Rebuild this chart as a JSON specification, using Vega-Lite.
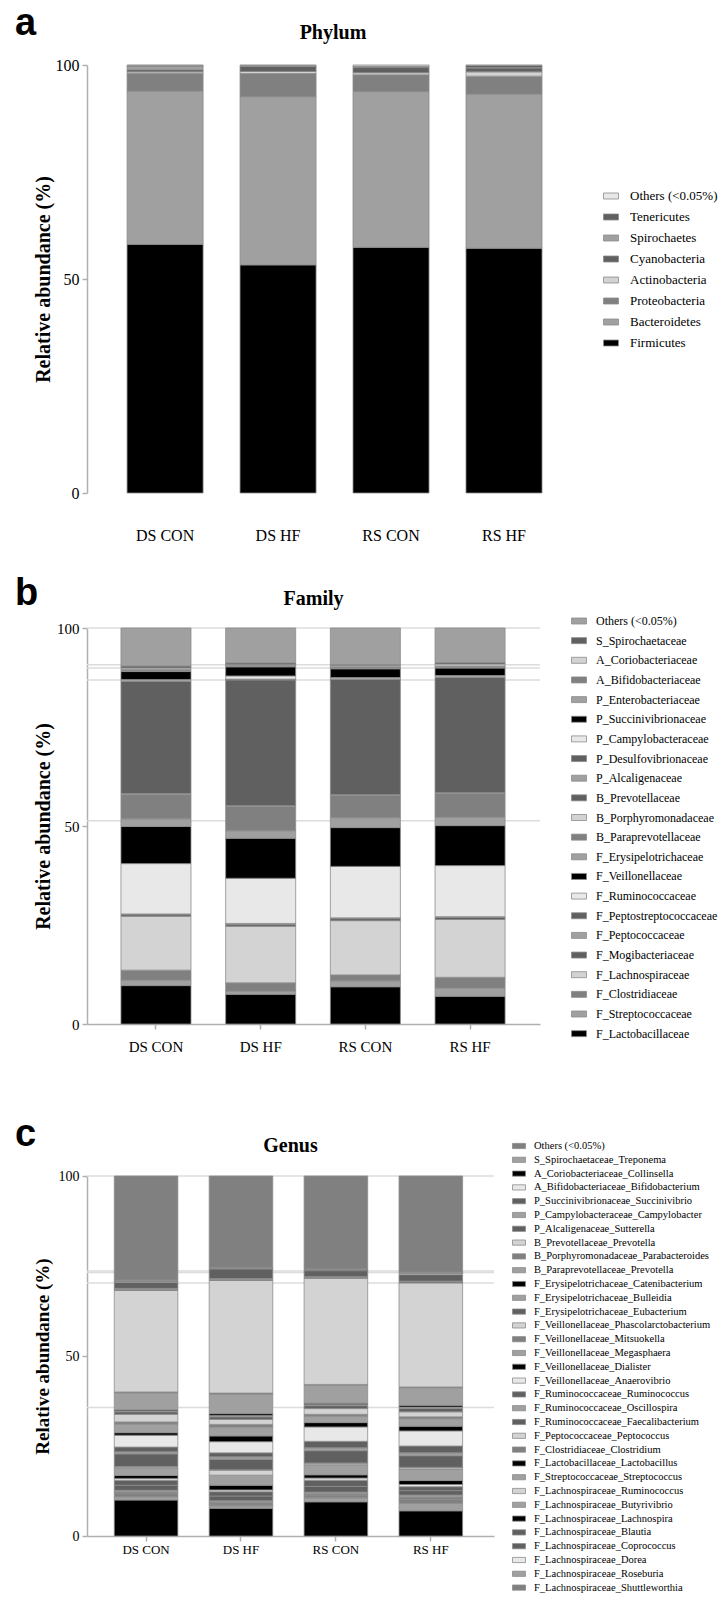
{
"$schema": "https://vega.github.io/schema/vega-lite/v6.json",
"background": "white",
"padding": {"left": 15, "top": 4, "right": 0, "bottom": 0},
"spacing": 32,
"resolve": {"scale": {"color": "independent", "x": "independent", "y": "independent"}, "legend": {"color": "independent"}},
"config": {
  "view": {"stroke": null},
  "font": "Liberation Serif",
  "axis": {"labelFont": "Liberation Serif", "titleFont": "Liberation Serif", "labelColor": "#000", "titleColor": "#000", "domainColor": "#b0b0b0", "domainWidth": 1.5, "tickColor": "#b0b0b0", "tickWidth": 1.5, "grid": false, "titleFontWeight": "bold"},
  "legend": {"labelFont": "Liberation Serif", "labelColor": "#000", "symbolType": "M-1,-0.4H1V0.4H-1Z", "symbolStrokeColor": "#8c8c8c", "symbolStrokeWidth": 0.8, "labelLimit": 400, "symbolLimit": 50},
  "title": {"font": "Liberation Serif", "fontWeight": "bold", "color": "#000"}
},
"datasets": {
  "phylum": [
    {"group": "DS CON", "taxon": "Firmicutes", "value": 58.1}, {"group": "DS HF", "taxon": "Firmicutes", "value": 53.3}, {"group": "RS CON", "taxon": "Firmicutes", "value": 57.4}, {"group": "RS HF", "taxon": "Firmicutes", "value": 57.2},
    {"group": "DS CON", "taxon": "Bacteroidetes", "value": 35.8}, {"group": "DS HF", "taxon": "Bacteroidetes", "value": 39.3}, {"group": "RS CON", "taxon": "Bacteroidetes", "value": 36.4}, {"group": "RS HF", "taxon": "Bacteroidetes", "value": 36.0},
    {"group": "DS CON", "taxon": "Proteobacteria", "value": 4.1}, {"group": "DS HF", "taxon": "Proteobacteria", "value": 5.4}, {"group": "RS CON", "taxon": "Proteobacteria", "value": 3.9}, {"group": "RS HF", "taxon": "Proteobacteria", "value": 4.2},
    {"group": "DS CON", "taxon": "Actinobacteria", "value": 0.4}, {"group": "DS HF", "taxon": "Actinobacteria", "value": 0.5}, {"group": "RS CON", "taxon": "Actinobacteria", "value": 0.5}, {"group": "RS HF", "taxon": "Actinobacteria", "value": 1.0},
    {"group": "DS CON", "taxon": "Cyanobacteria", "value": 0.5}, {"group": "DS HF", "taxon": "Cyanobacteria", "value": 1.2}, {"group": "RS CON", "taxon": "Cyanobacteria", "value": 1.2}, {"group": "RS HF", "taxon": "Cyanobacteria", "value": 0.9},
    {"group": "DS CON", "taxon": "Spirochaetes", "value": 0.8}, {"group": "DS HF", "taxon": "Spirochaetes", "value": 0.1}, {"group": "RS CON", "taxon": "Spirochaetes", "value": 0.1}, {"group": "RS HF", "taxon": "Spirochaetes", "value": 0.1},
    {"group": "DS CON", "taxon": "Tenericutes", "value": 0.2}, {"group": "DS HF", "taxon": "Tenericutes", "value": 0.1}, {"group": "RS CON", "taxon": "Tenericutes", "value": 0.2}, {"group": "RS HF", "taxon": "Tenericutes", "value": 0.5},
    {"group": "DS CON", "taxon": "Others (<0.05%)", "value": 0.1}, {"group": "DS HF", "taxon": "Others (<0.05%)", "value": 0.1}, {"group": "RS CON", "taxon": "Others (<0.05%)", "value": 0.3}, {"group": "RS HF", "taxon": "Others (<0.05%)", "value": 0.1}
  ],
  "family_lines": [{"value": 100}, {"value": 90.7}, {"value": 89.9}, {"value": 86.9}, {"value": 51.3}],
  "family": [
    {"group": "DS CON", "taxon": "F_Lactobacillaceae", "value": 9.7}, {"group": "DS HF", "taxon": "F_Lactobacillaceae", "value": 7.5}, {"group": "RS CON", "taxon": "F_Lactobacillaceae", "value": 9.4}, {"group": "RS HF", "taxon": "F_Lactobacillaceae", "value": 7.0},
    {"group": "DS CON", "taxon": "F_Streptococcaceae", "value": 1.4}, {"group": "DS HF", "taxon": "F_Streptococcaceae", "value": 0.8}, {"group": "RS CON", "taxon": "F_Streptococcaceae", "value": 1.5}, {"group": "RS HF", "taxon": "F_Streptococcaceae", "value": 2.1},
    {"group": "DS CON", "taxon": "F_Clostridiaceae", "value": 2.5}, {"group": "DS HF", "taxon": "F_Clostridiaceae", "value": 2.1}, {"group": "RS CON", "taxon": "F_Clostridiaceae", "value": 1.5}, {"group": "RS HF", "taxon": "F_Clostridiaceae", "value": 2.7},
    {"group": "DS CON", "taxon": "F_Lachnospiraceae", "value": 13.6}, {"group": "DS HF", "taxon": "F_Lachnospiraceae", "value": 14.3}, {"group": "RS CON", "taxon": "F_Lachnospiraceae", "value": 13.7}, {"group": "RS HF", "taxon": "F_Lachnospiraceae", "value": 14.6},
    {"group": "DS CON", "taxon": "F_Mogibacteriaceae", "value": 0.4}, {"group": "DS HF", "taxon": "F_Mogibacteriaceae", "value": 0.5}, {"group": "RS CON", "taxon": "F_Mogibacteriaceae", "value": 0.5}, {"group": "RS HF", "taxon": "F_Mogibacteriaceae", "value": 0.5},
    {"group": "DS CON", "taxon": "F_Peptococcaceae", "value": 0.1}, {"group": "DS HF", "taxon": "F_Peptococcaceae", "value": 0.1}, {"group": "RS CON", "taxon": "F_Peptococcaceae", "value": 0.1}, {"group": "RS HF", "taxon": "F_Peptococcaceae", "value": 0.1},
    {"group": "DS CON", "taxon": "F_Peptostreptococcaceae", "value": 0.1}, {"group": "DS HF", "taxon": "F_Peptostreptococcaceae", "value": 0.1}, {"group": "RS CON", "taxon": "F_Peptostreptococcaceae", "value": 0.1}, {"group": "RS HF", "taxon": "F_Peptostreptococcaceae", "value": 0.1},
    {"group": "DS CON", "taxon": "F_Ruminococcaceae", "value": 12.7}, {"group": "DS HF", "taxon": "F_Ruminococcaceae", "value": 11.4}, {"group": "RS CON", "taxon": "F_Ruminococcaceae", "value": 13.0}, {"group": "RS HF", "taxon": "F_Ruminococcaceae", "value": 12.9},
    {"group": "DS CON", "taxon": "F_Veillonellaceae", "value": 9.4}, {"group": "DS HF", "taxon": "F_Veillonellaceae", "value": 10.1}, {"group": "RS CON", "taxon": "F_Veillonellaceae", "value": 9.8}, {"group": "RS HF", "taxon": "F_Veillonellaceae", "value": 10.1},
    {"group": "DS CON", "taxon": "F_Erysipelotrichaceae", "value": 1.9}, {"group": "DS HF", "taxon": "F_Erysipelotrichaceae", "value": 1.9}, {"group": "RS CON", "taxon": "F_Erysipelotrichaceae", "value": 2.5}, {"group": "RS HF", "taxon": "F_Erysipelotrichaceae", "value": 2.1},
    {"group": "DS CON", "taxon": "B_Paraprevotellaceae", "value": 6.2}, {"group": "DS HF", "taxon": "B_Paraprevotellaceae", "value": 6.1}, {"group": "RS CON", "taxon": "B_Paraprevotellaceae", "value": 5.6}, {"group": "RS HF", "taxon": "B_Paraprevotellaceae", "value": 6.0},
    {"group": "DS CON", "taxon": "B_Porphyromonadaceae", "value": 0.2}, {"group": "DS HF", "taxon": "B_Porphyromonadaceae", "value": 0.2}, {"group": "RS CON", "taxon": "B_Porphyromonadaceae", "value": 0.2}, {"group": "RS HF", "taxon": "B_Porphyromonadaceae", "value": 0.2},
    {"group": "DS CON", "taxon": "B_Prevotellaceae", "value": 28.3}, {"group": "DS HF", "taxon": "B_Prevotellaceae", "value": 31.8}, {"group": "RS CON", "taxon": "B_Prevotellaceae", "value": 29.1}, {"group": "RS HF", "taxon": "B_Prevotellaceae", "value": 29.1},
    {"group": "DS CON", "taxon": "P_Alcaligenaceae", "value": 0.1}, {"group": "DS HF", "taxon": "P_Alcaligenaceae", "value": 0.1}, {"group": "RS CON", "taxon": "P_Alcaligenaceae", "value": 0.1}, {"group": "RS HF", "taxon": "P_Alcaligenaceae", "value": 0.1},
    {"group": "DS CON", "taxon": "P_Desulfovibrionaceae", "value": 0.1}, {"group": "DS HF", "taxon": "P_Desulfovibrionaceae", "value": 0.1}, {"group": "RS CON", "taxon": "P_Desulfovibrionaceae", "value": 0.1}, {"group": "RS HF", "taxon": "P_Desulfovibrionaceae", "value": 0.1},
    {"group": "DS CON", "taxon": "P_Campylobacteraceae", "value": 0.3}, {"group": "DS HF", "taxon": "P_Campylobacteraceae", "value": 0.8}, {"group": "RS CON", "taxon": "P_Campylobacteraceae", "value": 0.3}, {"group": "RS HF", "taxon": "P_Campylobacteraceae", "value": 0.3},
    {"group": "DS CON", "taxon": "P_Succinivibrionaceae", "value": 2.0}, {"group": "DS HF", "taxon": "P_Succinivibrionaceae", "value": 2.3}, {"group": "RS CON", "taxon": "P_Succinivibrionaceae", "value": 2.2}, {"group": "RS HF", "taxon": "P_Succinivibrionaceae", "value": 1.9},
    {"group": "DS CON", "taxon": "P_Enterobacteriaceae", "value": 0.2}, {"group": "DS HF", "taxon": "P_Enterobacteriaceae", "value": 0.2}, {"group": "RS CON", "taxon": "P_Enterobacteriaceae", "value": 0.2}, {"group": "RS HF", "taxon": "P_Enterobacteriaceae", "value": 0.3},
    {"group": "DS CON", "taxon": "A_Bifidobacteriaceae", "value": 0.3}, {"group": "DS HF", "taxon": "A_Bifidobacteriaceae", "value": 0.2}, {"group": "RS CON", "taxon": "A_Bifidobacteriaceae", "value": 0.3}, {"group": "RS HF", "taxon": "A_Bifidobacteriaceae", "value": 0.2},
    {"group": "DS CON", "taxon": "A_Coriobacteriaceae", "value": 0.4}, {"group": "DS HF", "taxon": "A_Coriobacteriaceae", "value": 0.2}, {"group": "RS CON", "taxon": "A_Coriobacteriaceae", "value": 0.3}, {"group": "RS HF", "taxon": "A_Coriobacteriaceae", "value": 0.5},
    {"group": "DS CON", "taxon": "S_Spirochaetaceae", "value": 0.5}, {"group": "DS HF", "taxon": "S_Spirochaetaceae", "value": 0.4}, {"group": "RS CON", "taxon": "S_Spirochaetaceae", "value": 0.3}, {"group": "RS HF", "taxon": "S_Spirochaetaceae", "value": 0.4},
    {"group": "DS CON", "taxon": "Others (<0.05%)", "value": 9.6}, {"group": "DS HF", "taxon": "Others (<0.05%)", "value": 8.8}, {"group": "RS CON", "taxon": "Others (<0.05%)", "value": 9.2}, {"group": "RS HF", "taxon": "Others (<0.05%)", "value": 8.7}
  ],
  "genus_lines": [{"value": 100}, {"value": 73.6}, {"value": 73.2}, {"value": 70.3}, {"value": 35.7}],
  "genus": [
    {"group": "DS CON", "taxon": "F_Lactobacillaceae_Lactobacillus", "value": 10.0}, {"group": "DS HF", "taxon": "F_Lactobacillaceae_Lactobacillus", "value": 7.7}, {"group": "RS CON", "taxon": "F_Lactobacillaceae_Lactobacillus", "value": 9.5}, {"group": "RS HF", "taxon": "F_Lactobacillaceae_Lactobacillus", "value": 7.0},
    {"group": "DS CON", "taxon": "F_Streptococcaceae_Streptococcus", "value": 0.9}, {"group": "DS HF", "taxon": "F_Streptococcaceae_Streptococcus", "value": 0.7}, {"group": "RS CON", "taxon": "F_Streptococcaceae_Streptococcus", "value": 1.1}, {"group": "RS HF", "taxon": "F_Streptococcaceae_Streptococcus", "value": 2.1},
    {"group": "DS CON", "taxon": "F_Clostridiaceae_Clostridium", "value": 0.9}, {"group": "DS HF", "taxon": "F_Clostridiaceae_Clostridium", "value": 0.5}, {"group": "RS CON", "taxon": "F_Clostridiaceae_Clostridium", "value": 0.6}, {"group": "RS HF", "taxon": "F_Clostridiaceae_Clostridium", "value": 1.1},
    {"group": "DS CON", "taxon": "F_Lachnospiraceae_Shuttleworthia", "value": 0.4}, {"group": "DS HF", "taxon": "F_Lachnospiraceae_Shuttleworthia", "value": 0.5}, {"group": "RS CON", "taxon": "F_Lachnospiraceae_Shuttleworthia", "value": 0.5}, {"group": "RS HF", "taxon": "F_Lachnospiraceae_Shuttleworthia", "value": 0.6},
    {"group": "DS CON", "taxon": "F_Lachnospiraceae_Roseburia", "value": 0.5}, {"group": "DS HF", "taxon": "F_Lachnospiraceae_Roseburia", "value": 0.4}, {"group": "RS CON", "taxon": "F_Lachnospiraceae_Roseburia", "value": 0.5}, {"group": "RS HF", "taxon": "F_Lachnospiraceae_Roseburia", "value": 0.6},
    {"group": "DS CON", "taxon": "F_Lachnospiraceae_Coprococcus", "value": 1.4}, {"group": "DS HF", "taxon": "F_Lachnospiraceae_Coprococcus", "value": 1.3}, {"group": "RS CON", "taxon": "F_Lachnospiraceae_Coprococcus", "value": 1.6}, {"group": "RS HF", "taxon": "F_Lachnospiraceae_Coprococcus", "value": 1.2},
    {"group": "DS CON", "taxon": "F_Lachnospiraceae_Blautia", "value": 1.4}, {"group": "DS HF", "taxon": "F_Lachnospiraceae_Blautia", "value": 1.2}, {"group": "RS CON", "taxon": "F_Lachnospiraceae_Blautia", "value": 1.7}, {"group": "RS HF", "taxon": "F_Lachnospiraceae_Blautia", "value": 1.1},
    {"group": "DS CON", "taxon": "F_Lachnospiraceae_Dorea", "value": 0.5}, {"group": "DS HF", "taxon": "F_Lachnospiraceae_Dorea", "value": 0.5}, {"group": "RS CON", "taxon": "F_Lachnospiraceae_Dorea", "value": 0.6}, {"group": "RS HF", "taxon": "F_Lachnospiraceae_Dorea", "value": 0.6},
    {"group": "DS CON", "taxon": "F_Lachnospiraceae_Lachnospira", "value": 0.8}, {"group": "DS HF", "taxon": "F_Lachnospiraceae_Lachnospira", "value": 1.3}, {"group": "RS CON", "taxon": "F_Lachnospiraceae_Lachnospira", "value": 0.9}, {"group": "RS HF", "taxon": "F_Lachnospiraceae_Lachnospira", "value": 1.1},
    {"group": "DS CON", "taxon": "F_Lachnospiraceae_Butyrivibrio", "value": 2.0}, {"group": "DS HF", "taxon": "F_Lachnospiraceae_Butyrivibrio", "value": 2.8}, {"group": "RS CON", "taxon": "F_Lachnospiraceae_Butyrivibrio", "value": 2.8}, {"group": "RS HF", "taxon": "F_Lachnospiraceae_Butyrivibrio", "value": 3.2},
    {"group": "DS CON", "taxon": "F_Lachnospiraceae_Ruminococcus", "value": 0.3}, {"group": "DS HF", "taxon": "F_Lachnospiraceae_Ruminococcus", "value": 1.4}, {"group": "RS CON", "taxon": "F_Lachnospiraceae_Ruminococcus", "value": 0.4}, {"group": "RS HF", "taxon": "F_Lachnospiraceae_Ruminococcus", "value": 0.4},
    {"group": "DS CON", "taxon": "F_Peptococcaceae_Peptococcus", "value": 0.2}, {"group": "DS HF", "taxon": "F_Peptococcaceae_Peptococcus", "value": 0.1}, {"group": "RS CON", "taxon": "F_Peptococcaceae_Peptococcus", "value": 0.1}, {"group": "RS HF", "taxon": "F_Peptococcaceae_Peptococcus", "value": 0.1},
    {"group": "DS CON", "taxon": "F_Ruminococcaceae_Faecalibacterium", "value": 3.5}, {"group": "DS HF", "taxon": "F_Ruminococcaceae_Faecalibacterium", "value": 2.9}, {"group": "RS CON", "taxon": "F_Ruminococcaceae_Faecalibacterium", "value": 3.4}, {"group": "RS HF", "taxon": "F_Ruminococcaceae_Faecalibacterium", "value": 3.2},
    {"group": "DS CON", "taxon": "F_Ruminococcaceae_Oscillospira", "value": 0.6}, {"group": "DS HF", "taxon": "F_Ruminococcaceae_Oscillospira", "value": 0.7}, {"group": "RS CON", "taxon": "F_Ruminococcaceae_Oscillospira", "value": 0.8}, {"group": "RS HF", "taxon": "F_Ruminococcaceae_Oscillospira", "value": 0.8},
    {"group": "DS CON", "taxon": "F_Ruminococcaceae_Ruminococcus", "value": 1.3}, {"group": "DS HF", "taxon": "F_Ruminococcaceae_Ruminococcus", "value": 1.1}, {"group": "RS CON", "taxon": "F_Ruminococcaceae_Ruminococcus", "value": 1.8}, {"group": "RS HF", "taxon": "F_Ruminococcaceae_Ruminococcus", "value": 1.9},
    {"group": "DS CON", "taxon": "F_Veillonellaceae_Anaerovibrio", "value": 3.3}, {"group": "DS HF", "taxon": "F_Veillonellaceae_Anaerovibrio", "value": 3.1}, {"group": "RS CON", "taxon": "F_Veillonellaceae_Anaerovibrio", "value": 4.0}, {"group": "RS HF", "taxon": "F_Veillonellaceae_Anaerovibrio", "value": 4.2},
    {"group": "DS CON", "taxon": "F_Veillonellaceae_Dialister", "value": 0.7}, {"group": "DS HF", "taxon": "F_Veillonellaceae_Dialister", "value": 1.6}, {"group": "RS CON", "taxon": "F_Veillonellaceae_Dialister", "value": 1.2}, {"group": "RS HF", "taxon": "F_Veillonellaceae_Dialister", "value": 1.3},
    {"group": "DS CON", "taxon": "F_Veillonellaceae_Megasphaera", "value": 2.4}, {"group": "DS HF", "taxon": "F_Veillonellaceae_Megasphaera", "value": 2.5}, {"group": "RS CON", "taxon": "F_Veillonellaceae_Megasphaera", "value": 1.8}, {"group": "RS HF", "taxon": "F_Veillonellaceae_Megasphaera", "value": 2.1},
    {"group": "DS CON", "taxon": "F_Veillonellaceae_Mitsuokella", "value": 0.6}, {"group": "DS HF", "taxon": "F_Veillonellaceae_Mitsuokella", "value": 0.7}, {"group": "RS CON", "taxon": "F_Veillonellaceae_Mitsuokella", "value": 0.5}, {"group": "RS HF", "taxon": "F_Veillonellaceae_Mitsuokella", "value": 0.5},
    {"group": "DS CON", "taxon": "F_Veillonellaceae_Phascolarctobacterium", "value": 2.1}, {"group": "DS HF", "taxon": "F_Veillonellaceae_Phascolarctobacterium", "value": 1.4}, {"group": "RS CON", "taxon": "F_Veillonellaceae_Phascolarctobacterium", "value": 1.6}, {"group": "RS HF", "taxon": "F_Veillonellaceae_Phascolarctobacterium", "value": 1.4},
    {"group": "DS CON", "taxon": "F_Erysipelotrichaceae_Eubacterium", "value": 0.7}, {"group": "DS HF", "taxon": "F_Erysipelotrichaceae_Eubacterium", "value": 0.7}, {"group": "RS CON", "taxon": "F_Erysipelotrichaceae_Eubacterium", "value": 0.8}, {"group": "RS HF", "taxon": "F_Erysipelotrichaceae_Eubacterium", "value": 0.9},
    {"group": "DS CON", "taxon": "F_Erysipelotrichaceae_Bulleidia", "value": 0.3}, {"group": "DS HF", "taxon": "F_Erysipelotrichaceae_Bulleidia", "value": 0.4}, {"group": "RS CON", "taxon": "F_Erysipelotrichaceae_Bulleidia", "value": 0.3}, {"group": "RS HF", "taxon": "F_Erysipelotrichaceae_Bulleidia", "value": 0.4},
    {"group": "DS CON", "taxon": "F_Erysipelotrichaceae_Catenibacterium", "value": 0.3}, {"group": "DS HF", "taxon": "F_Erysipelotrichaceae_Catenibacterium", "value": 0.5}, {"group": "RS CON", "taxon": "F_Erysipelotrichaceae_Catenibacterium", "value": 0.4}, {"group": "RS HF", "taxon": "F_Erysipelotrichaceae_Catenibacterium", "value": 0.5},
    {"group": "DS CON", "taxon": "B_Paraprevotellaceae_Prevotella", "value": 4.7}, {"group": "DS HF", "taxon": "B_Paraprevotellaceae_Prevotella", "value": 5.4}, {"group": "RS CON", "taxon": "B_Paraprevotellaceae_Prevotella", "value": 5.0}, {"group": "RS HF", "taxon": "B_Paraprevotellaceae_Prevotella", "value": 4.9},
    {"group": "DS CON", "taxon": "B_Porphyromonadaceae_Parabacteroides", "value": 0.2}, {"group": "DS HF", "taxon": "B_Porphyromonadaceae_Parabacteroides", "value": 0.3}, {"group": "RS CON", "taxon": "B_Porphyromonadaceae_Parabacteroides", "value": 0.2}, {"group": "RS HF", "taxon": "B_Porphyromonadaceae_Parabacteroides", "value": 0.2},
    {"group": "DS CON", "taxon": "B_Prevotellaceae_Prevotella", "value": 28.2}, {"group": "DS HF", "taxon": "B_Prevotellaceae_Prevotella", "value": 31.3}, {"group": "RS CON", "taxon": "B_Prevotellaceae_Prevotella", "value": 29.5}, {"group": "RS HF", "taxon": "B_Prevotellaceae_Prevotella", "value": 28.9},
    {"group": "DS CON", "taxon": "P_Alcaligenaceae_Sutterella", "value": 0.3}, {"group": "DS HF", "taxon": "P_Alcaligenaceae_Sutterella", "value": 0.2}, {"group": "RS CON", "taxon": "P_Alcaligenaceae_Sutterella", "value": 0.3}, {"group": "RS HF", "taxon": "P_Alcaligenaceae_Sutterella", "value": 0.3},
    {"group": "DS CON", "taxon": "P_Campylobacteraceae_Campylobacter", "value": 0.3}, {"group": "DS HF", "taxon": "P_Campylobacteraceae_Campylobacter", "value": 0.3}, {"group": "RS CON", "taxon": "P_Campylobacteraceae_Campylobacter", "value": 0.2}, {"group": "RS HF", "taxon": "P_Campylobacteraceae_Campylobacter", "value": 0.2},
    {"group": "DS CON", "taxon": "P_Succinivibrionaceae_Succinivibrio", "value": 1.7}, {"group": "DS HF", "taxon": "P_Succinivibrionaceae_Succinivibrio", "value": 2.7}, {"group": "RS CON", "taxon": "P_Succinivibrionaceae_Succinivibrio", "value": 1.6}, {"group": "RS HF", "taxon": "P_Succinivibrionaceae_Succinivibrio", "value": 1.8},
    {"group": "DS CON", "taxon": "A_Bifidobacteriaceae_Bifidobacterium", "value": 0.2}, {"group": "DS HF", "taxon": "A_Bifidobacteriaceae_Bifidobacterium", "value": 0.1}, {"group": "RS CON", "taxon": "A_Bifidobacteriaceae_Bifidobacterium", "value": 0.1}, {"group": "RS HF", "taxon": "A_Bifidobacteriaceae_Bifidobacterium", "value": 0.3},
    {"group": "DS CON", "taxon": "A_Coriobacteriaceae_Collinsella", "value": 0.1}, {"group": "DS HF", "taxon": "A_Coriobacteriaceae_Collinsella", "value": 0.1}, {"group": "RS CON", "taxon": "A_Coriobacteriaceae_Collinsella", "value": 0.2}, {"group": "RS HF", "taxon": "A_Coriobacteriaceae_Collinsella", "value": 0.1},
    {"group": "DS CON", "taxon": "S_Spirochaetaceae_Treponema", "value": 0.3}, {"group": "DS HF", "taxon": "S_Spirochaetaceae_Treponema", "value": 0.2}, {"group": "RS CON", "taxon": "S_Spirochaetaceae_Treponema", "value": 0.2}, {"group": "RS HF", "taxon": "S_Spirochaetaceae_Treponema", "value": 0.3},
    {"group": "DS CON", "taxon": "Others (<0.05%)", "value": 28.9}, {"group": "DS HF", "taxon": "Others (<0.05%)", "value": 25.4}, {"group": "RS CON", "taxon": "Others (<0.05%)", "value": 25.8}, {"group": "RS HF", "taxon": "Others (<0.05%)", "value": 26.7}
  ]
},
"vconcat": [
  {
    "title": {"text": "a", "anchor": "start", "frame": "bounds", "font": "Liberation Sans", "fontSize": 38, "fontWeight": "bold", "baseline": "alphabetic", "offset": -49.5, "dx": -18},
    "vconcat": [
      {
        "title": {"text": "Phylum", "anchor": "middle", "frame": "group", "fontSize": 20, "baseline": "alphabetic", "offset": -2},
        "width": 492, "height": 428,
        "data": {"name": "phylum"},
        "transform": [{"window": [{"op": "row_number", "as": "rank"}]}],
        "mark": {"type": "bar", "stroke": "#8c8c8c", "strokeWidth": 0.8},
        "encoding": {
          "x": {"field": "group", "type": "nominal", "sort": ["DS CON", "DS HF", "RS CON", "RS HF"], "scale": {"paddingInner": 0.327, "paddingOuter": 0.341, "align": 0.52},
                "axis": {"title": null, "labelAngle": 0, "labelFontSize": 16, "domain": false, "ticks": false, "labelPadding": 34}},
          "y": {"field": "value", "type": "quantitative", "stack": "zero", "scale": {"domain": [0, 100], "nice": false},
                "axis": {"title": "Relative abundance (%)", "values": [0, 50, 100], "labelFontSize": 16, "titleFontSize": 20, "tickSize": 5, "labelPadding": 3, "titlePadding": 2}},
          "color": {"field": "taxon", "type": "nominal",
                    "scale": {"domain": ["Others (<0.05%)", "Tenericutes", "Spirochaetes", "Cyanobacteria", "Actinobacteria", "Proteobacteria", "Bacteroidetes", "Firmicutes"],
                              "range": ["#e8e8e8", "#606060", "#a0a0a0", "#606060", "#d3d3d3", "#808080", "#a0a0a0", "#000000"]},
                    "legend": {"title": null, "orient": "none", "legendX": 516, "legendY": 123, "symbolSize": 225, "labelFontSize": 13, "labelOffset": 11, "rowPadding": 6}},
          "order": {"field": "rank", "type": "quantitative"}
        }
      }
    ]
  },
  {
    "spacing": 61,
    "resolve": {"scale": {"color": "independent", "x": "independent", "y": "independent"}, "legend": {"color": "independent"}},
    "vconcat": [
      {
        "title": {"text": "b", "anchor": "start", "frame": "bounds", "font": "Liberation Sans", "fontSize": 38, "fontWeight": "bold", "baseline": "alphabetic", "offset": -54.5, "dx": -18},
        "vconcat": [
          {
            "title": {"text": "Family", "anchor": "middle", "frame": "group", "fontSize": 20, "baseline": "alphabetic", "offset": -3.5},
            "width": 453, "height": 396,
            "layer": [
              {
                "data": {"name": "family_lines"},
                "mark": {"type": "rule", "color": "#dcdcdc", "strokeWidth": 1.5},
                "encoding": {"y": {"field": "value", "type": "quantitative", "scale": {"domain": [0, 100], "nice": false},
                  "axis": {"title": "Relative abundance (%)", "values": [0, 50, 100], "labelFontSize": 15, "titleFontSize": 20, "tickSize": 5, "labelPadding": 3, "titlePadding": 3.5}}}
              },
              {
                "data": {"name": "family"},
                "transform": [{"window": [{"op": "row_number", "as": "rank"}]}],
                "mark": {"type": "bar", "stroke": "#8c8c8c", "strokeWidth": 0.8},
                "encoding": {
                  "x": {"field": "group", "type": "nominal", "sort": ["DS CON", "DS HF", "RS CON", "RS HF"], "scale": {"paddingInner": 0.331, "paddingOuter": 0.329, "align": 0.493},
                        "axis": {"title": null, "labelAngle": 0, "labelFontSize": 15, "tickSize": 5, "labelPadding": 10}},
                  "y": {"field": "value", "type": "quantitative", "stack": "zero", "scale": {"domain": [0, 100], "nice": false},
                        "axis": {"title": "Relative abundance (%)", "values": [0, 50, 100], "labelFontSize": 15, "titleFontSize": 20, "tickSize": 5, "labelPadding": 3, "titlePadding": 3.5}},
                  "color": {"field": "taxon", "type": "nominal",
                            "scale": {"domain": ["Others (<0.05%)", "S_Spirochaetaceae", "A_Coriobacteriaceae", "A_Bifidobacteriaceae", "P_Enterobacteriaceae", "P_Succinivibrionaceae", "P_Campylobacteraceae", "P_Desulfovibrionaceae", "P_Alcaligenaceae", "B_Prevotellaceae", "B_Porphyromonadaceae", "B_Paraprevotellaceae", "F_Erysipelotrichaceae", "F_Veillonellaceae", "F_Ruminococcaceae", "F_Peptostreptococcaceae", "F_Peptococcaceae", "F_Mogibacteriaceae", "F_Lachnospiraceae", "F_Clostridiaceae", "F_Streptococcaceae", "F_Lactobacillaceae"],
                                      "range": ["#a0a0a0", "#606060", "#d3d3d3", "#808080", "#a0a0a0", "#000000", "#e8e8e8", "#606060", "#a0a0a0", "#606060", "#d3d3d3", "#808080", "#a0a0a0", "#000000", "#e8e8e8", "#606060", "#a0a0a0", "#606060", "#d3d3d3", "#808080", "#a0a0a0", "#000000"]},
                            "legend": {"title": null, "orient": "none", "legendX": 484, "legendY": -15, "symbolSize": 225, "labelFontSize": 12, "labelOffset": 9, "rowPadding": 5.65}},
                  "order": {"field": "rank", "type": "quantitative"}
                }
              }
            ]
          }
        ]
      },
      {
        "title": {"text": "c", "anchor": "start", "frame": "bounds", "font": "Liberation Sans", "fontSize": 38, "fontWeight": "bold", "baseline": "alphabetic", "offset": -47.5, "dx": -18},
        "vconcat": [
          {
            "title": {"text": "Genus", "anchor": "middle", "frame": "group", "fontSize": 20, "baseline": "alphabetic", "offset": -3},
            "width": 407, "height": 360,
            "layer": [
              {
                "data": {"name": "genus_lines"},
                "mark": {"type": "rule", "color": "#dcdcdc", "strokeWidth": 1.5},
                "encoding": {"y": {"field": "value", "type": "quantitative", "scale": {"domain": [0, 100], "nice": false},
                  "axis": {"title": "Relative abundance (%)", "values": [0, 50, 100], "labelFontSize": 14, "titleFontSize": 19, "tickSize": 5, "labelPadding": 3, "titlePadding": 6}}}
              },
              {
                "data": {"name": "genus"},
                "transform": [{"window": [{"op": "row_number", "as": "rank"}]}],
                "mark": {"type": "bar", "stroke": "#8c8c8c", "strokeWidth": 0.8},
                "encoding": {
                  "x": {"field": "group", "type": "nominal", "sort": ["DS CON", "DS HF", "RS CON", "RS HF"], "scale": {"paddingInner": 0.33, "paddingOuter": 0.309, "align": 0.465},
                        "axis": {"title": null, "labelAngle": 0, "labelFontSize": 13, "tickSize": 5, "labelPadding": 2}},
                  "y": {"field": "value", "type": "quantitative", "stack": "zero", "scale": {"domain": [0, 100], "nice": false},
                        "axis": {"title": "Relative abundance (%)", "values": [0, 50, 100], "labelFontSize": 14, "titleFontSize": 19, "tickSize": 5, "labelPadding": 3, "titlePadding": 6}},
                  "color": {"field": "taxon", "type": "nominal",
                            "scale": {"domain": ["Others (<0.05%)", "S_Spirochaetaceae_Treponema", "A_Coriobacteriaceae_Collinsella", "A_Bifidobacteriaceae_Bifidobacterium", "P_Succinivibrionaceae_Succinivibrio", "P_Campylobacteraceae_Campylobacter", "P_Alcaligenaceae_Sutterella", "B_Prevotellaceae_Prevotella", "B_Porphyromonadaceae_Parabacteroides", "B_Paraprevotellaceae_Prevotella", "F_Erysipelotrichaceae_Catenibacterium", "F_Erysipelotrichaceae_Bulleidia", "F_Erysipelotrichaceae_Eubacterium", "F_Veillonellaceae_Phascolarctobacterium", "F_Veillonellaceae_Mitsuokella", "F_Veillonellaceae_Megasphaera", "F_Veillonellaceae_Dialister", "F_Veillonellaceae_Anaerovibrio", "F_Ruminococcaceae_Ruminococcus", "F_Ruminococcaceae_Oscillospira", "F_Ruminococcaceae_Faecalibacterium", "F_Peptococcaceae_Peptococcus", "F_Clostridiaceae_Clostridium", "F_Lactobacillaceae_Lactobacillus", "F_Streptococcaceae_Streptococcus", "F_Lachnospiraceae_Ruminococcus", "F_Lachnospiraceae_Butyrivibrio", "F_Lachnospiraceae_Lachnospira", "F_Lachnospiraceae_Blautia", "F_Lachnospiraceae_Coprococcus", "F_Lachnospiraceae_Dorea", "F_Lachnospiraceae_Roseburia", "F_Lachnospiraceae_Shuttleworthia"],
                                      "range": ["#808080", "#a0a0a0", "#000000", "#e8e8e8", "#606060", "#a0a0a0", "#606060", "#d3d3d3", "#808080", "#a0a0a0", "#000000", "#a0a0a0", "#606060", "#d3d3d3", "#808080", "#a0a0a0", "#000000", "#e8e8e8", "#606060", "#a0a0a0", "#606060", "#d3d3d3", "#808080", "#000000", "#a0a0a0", "#d3d3d3", "#a0a0a0", "#000000", "#606060", "#606060", "#e8e8e8", "#a0a0a0", "#808080"]},
                            "legend": {"title": null, "orient": "none", "legendX": 425, "legendY": -37, "symbolSize": 169, "labelFontSize": 10.5, "labelOffset": 8, "rowPadding": 0.8, "symbolLimit": 50}},
                  "order": {"field": "rank", "type": "quantitative"}
                }
              }
            ]
          }
        ]
      }
    ]
  }
]
}
